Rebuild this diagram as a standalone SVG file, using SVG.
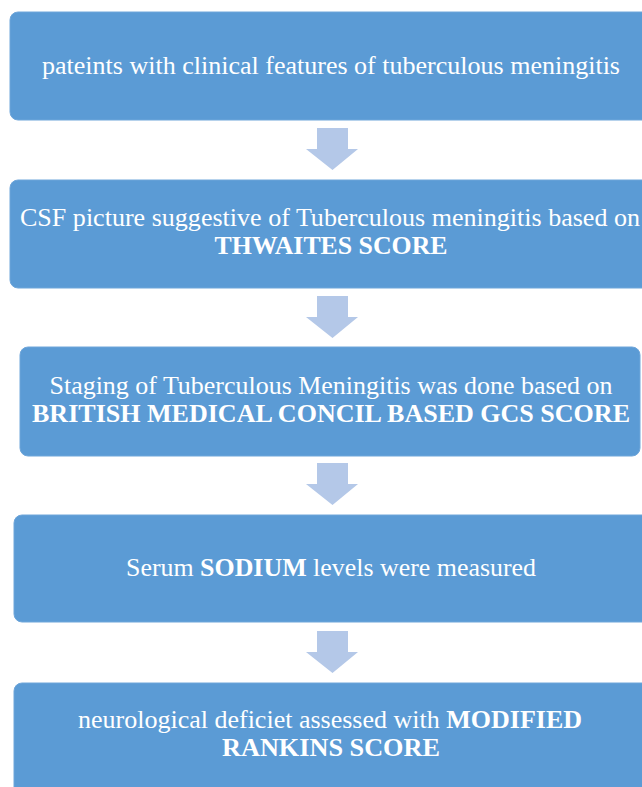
<svg xmlns="http://www.w3.org/2000/svg" width="642" height="787" viewBox="0 0 642 787">
<style>
.box{fill:#5B9BD5;stroke:#6FA6DA;stroke-width:1}
.t{font-family:"Liberation Serif","Times New Roman",serif;font-size:26px;fill:#FFFFFF;text-anchor:middle}
.b{font-weight:bold}
.arr{fill:#B4C8E8}
</style>
<rect width="642" height="787" fill="#FFFFFF"/>
<g id="connectors">
<path class="arr" d="M317,128 H348 V149 H358 L332.5,170 L306,149 H317 Z"/>
<path class="arr" d="M317,296 H348 V317 H358 L332.5,338 L306,317 H317 Z"/>
<path class="arr" d="M317,463 H348 V484 H358 L332.5,505 L306,484 H317 Z"/>
<path class="arr" d="M317,631 H348 V652 H358 L332.5,673 L306,652 H317 Z"/>
</g>
<g id="node1">
<rect class="box" x="10" y="12" width="650" height="108" rx="8"/>
<text class="t" x="331" y="74" textLength="578" lengthAdjust="spacingAndGlyphs">pateints with clinical  features of tuberculous meningitis</text>
</g>
<g id="node2">
<rect class="box" x="10" y="180" width="650" height="108" rx="8"/>
<text class="t" x="330" y="226" textLength="620" lengthAdjust="spacingAndGlyphs">CSF picture suggestive of Tuberculous  meningitis based on</text>
<text class="t b" x="331" y="254" textLength="233" lengthAdjust="spacingAndGlyphs">THWAITES SCORE</text>
</g>
<g id="node3">
<rect class="box" x="20" y="347" width="620" height="109" rx="8"/>
<text class="t" x="331" y="394" textLength="563" lengthAdjust="spacingAndGlyphs">Staging of Tuberculous  Meningitis  was done based on</text>
<text class="t b" x="331" y="422" textLength="598" lengthAdjust="spacingAndGlyphs">BRITISH MEDICAL CONCIL BASED GCS SCORE</text>
</g>
<g id="node4">
<rect class="box" x="14" y="515" width="646" height="107" rx="8"/>
<text class="t" x="331" y="576" textLength="410" lengthAdjust="spacingAndGlyphs">Serum <tspan class="b">SODIUM</tspan> levels were measured</text>
</g>
<g id="node5">
<rect class="box" x="14" y="683" width="646" height="120" rx="8"/>
<text class="t" x="330" y="728" textLength="504" lengthAdjust="spacingAndGlyphs">neurological  deficiet assessed with <tspan class="b">MODIFIED</tspan></text>
<text class="t b" x="331" y="756" textLength="218" lengthAdjust="spacingAndGlyphs">RANKINS SCORE</text>
</g>
</svg>
